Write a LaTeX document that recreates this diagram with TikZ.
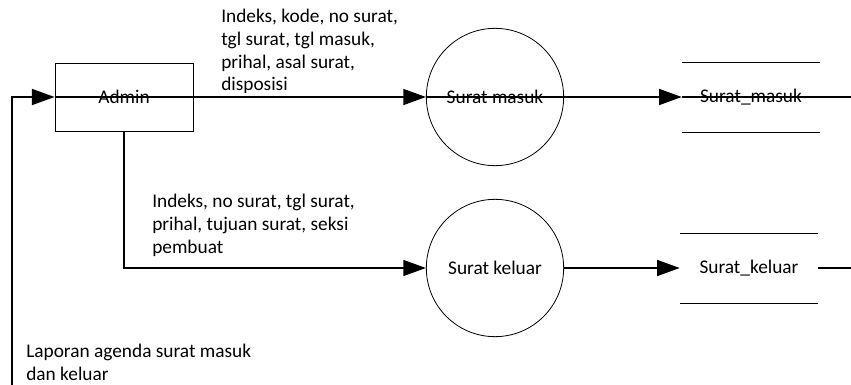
\documentclass[tikz,border=0pt]{standalone}
\usepackage{fontspec}
\setmainfont{Carlito}
\usetikzlibrary{arrows.meta,positioning}

\begin{document}
\begin{tikzpicture}[
    x=0.75pt, y=-0.75pt, font=\fontsize{14.5}{17}\selectfont,
    wire/.style={line width=1.2pt},
    flow/.style={wire, -{Triangle[length=17pt,width=12pt]}},
    entity/.style={draw, line width=0.6pt, minimum width=103.5pt,
      minimum height=51pt, inner sep=0pt},
    proc/.style={circle, draw, line width=0.6pt, minimum size=103pt,
      inner sep=0pt},
    store/.style={minimum width=103.5pt, minimum height=52pt, inner sep=0pt},
    flowtext/.style={anchor=north west, align=left, inner sep=0pt}]

    \useasboundingbox (0,0) rectangle (851,385);

    % vertices

    \node[entity] (admin) at (124,97) {Admin};

    \node[proc] (masuk) at (495,97) {Surat masuk};
    \node[proc] (keluar) at (495,268) {Surat keluar};

    \node[store] (smasuk) at (751,97) {Surat\_masuk};
    \node[store] (skeluar) at (749,268) {Surat\_keluar};

    \coordinate (lapor) at (12,385);
    \coordinate (endmasuk) at (851,97);
    \coordinate (endkeluar) at (851,268);

    \foreach \s in {smasuk,skeluar}
      \draw[line width=0.6pt] (\s.north west) -- (\s.north east)
        (\s.south west) -- (\s.south east);

    % labels

    \node[flowtext] (lblmasuk) at (221,9)
      {Indeks, kode, no surat,\\tgl surat, tgl masuk,\\prihal, asal surat,\\disposisi};
    \node[flowtext] (lblkeluar) at (152,194)
      {Indeks, no surat, tgl surat,\\prihal, tujuan surat, seksi\\pembuat};
    \node[flowtext] (lbllapor) at (26,344)
      {Laporan agenda surat masuk\\dan keluar};

    % edges

    \draw[flow] (lapor) |- (admin.west);
    \draw[flow] (admin.west) -- (masuk.west);
    \draw[flow] (masuk.west) -- (smasuk.west);
    \draw[wire] (smasuk.west) -- (endmasuk);

    \draw[flow] (admin.south) |- (keluar.west);
    \draw[flow] (keluar.east) -- (skeluar.west);
    \draw[wire] (skeluar.east) -- (endkeluar);
  \end{tikzpicture}
\end{document}
